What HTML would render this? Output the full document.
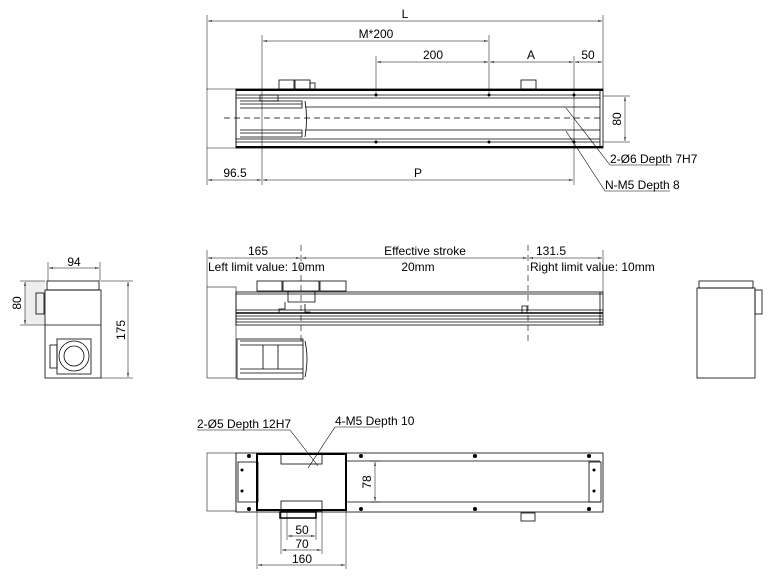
<!DOCTYPE html>
<html><head><meta charset="utf-8"><style>
html,body{margin:0;padding:0;background:#fff}
svg{display:block}
text{font-family:"Liberation Sans",Arial,sans-serif;font-size:12px;fill:#000}
</style></head><body>
<svg width="782" height="576" viewBox="0 0 782 576" xmlns="http://www.w3.org/2000/svg">
<defs>
<marker id="a" viewBox="0 0 8 6" refX="8" refY="3" markerWidth="8" markerHeight="6" orient="auto-start-reverse"><path d="M0,1.5 L8,3 L0,4.5z" fill="#000"/></marker>
</defs>
<g stroke="#000" fill="none" stroke-width="0.8">
<!-- TOP VIEW -->
<rect x="207" y="89" width="29" height="59" stroke="#666"/>
<rect x="236" y="89" width="367" height="59"/>
<line x1="236" y1="90" x2="603" y2="90" stroke-width="2"/>
<line x1="236" y1="147" x2="603" y2="147" stroke-width="2"/>
<line x1="236" y1="95" x2="600" y2="95"/><line x1="236" y1="98" x2="600" y2="98"/>
<line x1="305" y1="107" x2="600" y2="107"/><line x1="305" y1="130" x2="600" y2="130"/>
<line x1="236" y1="139" x2="600" y2="139"/><line x1="236" y1="142" x2="600" y2="142"/>
<line x1="600" y1="90" x2="600" y2="147"/>
<line x1="224" y1="118" x2="603" y2="118" stroke-dasharray="6,4"/>
<path d="M240,101 H302 V108 H240 M240,104 H302 M240,130 H302 V137 H240 M240,133 H302 M305,101 Q308,118 305,137"/>
<rect x="260" y="95" width="18" height="6"/>
<rect x="279" y="80" width="15" height="9"/><rect x="295" y="80" width="15" height="9"/><rect x="310" y="83" width="5" height="6"/>
<rect x="521" y="80" width="15" height="9"/>
<!-- top dims -->
<line x1="207" y1="15" x2="207" y2="90" stroke-width="0.5"/>
<line x1="603" y1="15" x2="603" y2="90" stroke-width="0.5"/>
<line x1="262" y1="35" x2="262" y2="185" stroke-width="0.5"/>
<line x1="376" y1="56" x2="376" y2="95" stroke-width="0.5"/>
<line x1="489" y1="35" x2="489" y2="95" stroke-width="0.5"/>
<line x1="574" y1="56" x2="574" y2="185" stroke-width="0.5"/>
<line x1="207" y1="148" x2="207" y2="185" stroke-width="0.5"/>
<line x1="208" y1="21" x2="602" y2="21" marker-start="url(#a)" marker-end="url(#a)" stroke-width="0.5"/>
<line x1="263" y1="41" x2="488" y2="41" marker-start="url(#a)" marker-end="url(#a)" stroke-width="0.5"/>
<line x1="377" y1="62" x2="488" y2="62" marker-start="url(#a)" marker-end="url(#a)" stroke-width="0.5"/>
<line x1="490" y1="62" x2="573" y2="62" marker-start="url(#a)" marker-end="url(#a)" stroke-width="0.5"/>
<line x1="575" y1="62" x2="602" y2="62" marker-start="url(#a)" marker-end="url(#a)" stroke-width="0.5"/>
<line x1="208" y1="180" x2="261" y2="180" marker-start="url(#a)" marker-end="url(#a)" stroke-width="0.5"/>
<line x1="263" y1="180" x2="573" y2="180" marker-start="url(#a)" marker-end="url(#a)" stroke-width="0.5"/>
<line x1="603" y1="96" x2="630" y2="96" stroke-width="0.5"/><line x1="603" y1="142" x2="630" y2="142" stroke-width="0.5"/>
<line x1="625" y1="97" x2="625" y2="141" marker-start="url(#a)" marker-end="url(#a)" stroke-width="0.5"/>
<path d="M566,108 L610,165 H670 M566,131 L605,191 H670" stroke-width="0.6"/>
<!-- MIDDLE VIEW -->
<rect x="207" y="287" width="29" height="91" stroke="#555"/>
<rect x="236" y="292" width="367" height="33"/>
<line x1="236" y1="294" x2="603" y2="294"/>
<line x1="236" y1="310" x2="603" y2="310"/><line x1="236" y1="313" x2="603" y2="313" stroke-width="1.5"/>
<line x1="236" y1="316" x2="603" y2="316"/><line x1="236" y1="319" x2="603" y2="319"/>
<line x1="236" y1="322" x2="603" y2="322"/><line x1="600" y1="292" x2="600" y2="325"/>
<rect x="257" y="281" width="25" height="10"/><rect x="283" y="281" width="36" height="10"/><rect x="320" y="281" width="26" height="10"/>
<path d="M288,291 V302 H315 V291 M285,302 V309 H279 V313 M305,304 V312 H310 V313"/>
<rect x="237" y="339" width="66" height="40"/>
<path d="M240,341 H303 M240,345 H303 M240,369 H303 M240,373 H303 M263,345 V369 M278,345 V369 M305,341 Q309,359 305,377"/>
<path d="M522,313 V306 H527 V313"/>
<line x1="301" y1="245" x2="301" y2="342" stroke-dasharray="6,4" stroke-width="0.6"/>
<line x1="528" y1="245" x2="528" y2="342" stroke-dasharray="6,4" stroke-width="0.6"/>
<line x1="207" y1="250" x2="207" y2="287" stroke-width="0.5"/><line x1="603" y1="250" x2="603" y2="292" stroke-width="0.5"/>
<line x1="208" y1="258" x2="300" y2="258" marker-start="url(#a)" marker-end="url(#a)" stroke-width="0.5"/>
<line x1="302" y1="258" x2="527" y2="258" marker-start="url(#a)" marker-end="url(#a)" stroke-width="0.5"/>
<line x1="529" y1="258" x2="602" y2="258" marker-start="url(#a)" marker-end="url(#a)" stroke-width="0.5"/>
<!-- LEFT SIDE -->
<rect x="25" y="281" width="20" height="44" fill="#eee" stroke="none"/>
<rect x="45" y="290" width="56" height="88"/>
<rect x="47" y="281" width="52" height="9"/>
<line x1="45" y1="325" x2="101" y2="325"/>
<rect x="57" y="339" width="34" height="35"/><circle cx="74" cy="356" r="15"/><circle cx="74" cy="356" r="10"/>
<rect x="50" y="345" width="7" height="23"/>
<rect x="36" y="293" width="8" height="21"/>
<line x1="48" y1="262" x2="48" y2="281" stroke-width="0.5"/><line x1="100" y1="262" x2="100" y2="281" stroke-width="0.5"/>
<line x1="49" y1="268" x2="99" y2="268" marker-start="url(#a)" marker-end="url(#a)" stroke-width="0.5"/>
<line x1="20" y1="281" x2="45" y2="281" stroke-width="0.5"/><line x1="20" y1="325" x2="45" y2="325" stroke-width="0.5"/>
<line x1="25" y1="282" x2="25" y2="324" marker-start="url(#a)" marker-end="url(#a)" stroke-width="0.5"/>
<line x1="101" y1="281" x2="133" y2="281" stroke-width="0.5"/><line x1="101" y1="378" x2="133" y2="378" stroke-width="0.5"/>
<line x1="128" y1="282" x2="128" y2="377" marker-start="url(#a)" marker-end="url(#a)" stroke-width="0.5"/>
<!-- RIGHT SIDE -->
<rect x="697" y="288" width="58" height="90"/>
<rect x="699" y="281" width="54" height="7"/>
<rect x="755" y="290" width="7" height="24"/>
<!-- BOTTOM VIEW -->
<rect x="207" y="453" width="29" height="58" stroke="#555"/>
<rect x="236" y="453" width="367" height="59"/>
<line x1="346" y1="461" x2="600" y2="461"/><line x1="346" y1="502" x2="600" y2="502"/>
<rect x="238" y="462" width="20" height="40"/><rect x="589" y="462" width="12" height="40"/>
<rect x="257" y="454" width="89" height="56" stroke-width="2"/>
<rect x="281" y="454" width="41" height="10"/><rect x="281" y="501" width="41" height="10"/>
<rect x="280" y="512" width="36" height="6" stroke-width="1.5"/>
<rect x="521" y="513" width="14" height="8"/>
<line x1="375" y1="462" x2="375" y2="501" marker-start="url(#a)" marker-end="url(#a)" stroke-width="0.5"/>
<line x1="370" y1="461" x2="380" y2="461" stroke-width="0.5"/><line x1="370" y1="502" x2="380" y2="502" stroke-width="0.5"/>
<line x1="287" y1="511" x2="287" y2="540" stroke-width="0.5"/><line x1="316" y1="511" x2="316" y2="540" stroke-width="0.5"/>
<line x1="281" y1="511" x2="281" y2="554" stroke-width="0.5"/><line x1="322" y1="511" x2="322" y2="554" stroke-width="0.5"/>
<line x1="257" y1="511" x2="257" y2="569" stroke-width="0.5"/><line x1="346" y1="511" x2="346" y2="569" stroke-width="0.5"/>
<line x1="288" y1="536" x2="315" y2="536" marker-start="url(#a)" marker-end="url(#a)" stroke-width="0.5"/>
<line x1="282" y1="550" x2="321" y2="550" marker-start="url(#a)" marker-end="url(#a)" stroke-width="0.5"/>
<line x1="258" y1="565" x2="345" y2="565" marker-start="url(#a)" marker-end="url(#a)" stroke-width="0.5"/>
<path d="M197,430 H290 L318,466 M335,427 H380 M335,427 L308,468" stroke-width="0.6"/>
</g>
<g fill="#000">
<circle cx="249" cy="456" r="2"/><circle cx="361" cy="456" r="2"/><circle cx="475" cy="456" r="2"/><circle cx="589" cy="456" r="2"/>
<circle cx="249" cy="509" r="2"/><circle cx="361" cy="509" r="2"/><circle cx="475" cy="509" r="2"/><circle cx="589" cy="509" r="2"/>
<circle cx="242" cy="470" r="1.5"/><circle cx="242" cy="491" r="1.5"/><circle cx="594" cy="470" r="1.5"/><circle cx="594" cy="491" r="1.5"/>
<circle cx="376" cy="95" r="1.5"/><circle cx="489" cy="95" r="1.5"/><circle cx="574" cy="95" r="1.5"/>
<circle cx="376" cy="142" r="1.5"/><circle cx="489" cy="142" r="1.5"/><circle cx="574" cy="142" r="1.5"/>
</g>
<text x="405" y="18" text-anchor="middle">L</text>
<text x="376" y="38" text-anchor="middle">M*200</text>
<text x="433" y="59" text-anchor="middle">200</text>
<text x="531" y="59" text-anchor="middle">A</text>
<text x="588" y="59" text-anchor="middle">50</text>
<text x="235" y="177" text-anchor="middle">96.5</text>
<text x="418" y="177" text-anchor="middle">P</text>
<text transform="translate(621,119) rotate(-90)" text-anchor="middle">80</text>
<text x="610" y="163">2-Ø6 Depth 7H7</text>
<text x="605" y="189">N-M5 Depth 8</text>
<text x="258" y="255" text-anchor="middle">165</text>
<text x="208" y="271">Left limit value: 10mm</text>
<text x="425" y="255" text-anchor="middle">Effective stroke</text>
<text x="418" y="271" text-anchor="middle">20mm</text>
<text x="551" y="255" text-anchor="middle">131.5</text>
<text x="530" y="271">Right limit value: 10mm</text>
<text x="74" y="266" text-anchor="middle">94</text>
<text transform="translate(21,303) rotate(-90)" text-anchor="middle">80</text>
<text transform="translate(125,330) rotate(-90)" text-anchor="middle">175</text>
<text x="197" y="428">2-Ø5 Depth 12H7</text>
<text x="335" y="425">4-M5 Depth 10</text>
<text transform="translate(371,482) rotate(-90)" text-anchor="middle">78</text>
<text x="302" y="534" text-anchor="middle">50</text>
<text x="302" y="548" text-anchor="middle">70</text>
<text x="302" y="563" text-anchor="middle">160</text>
</svg>
</body></html>
